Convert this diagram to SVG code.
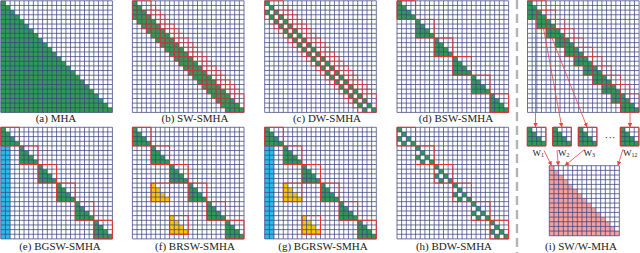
<svg xmlns="http://www.w3.org/2000/svg" xmlns:xlink="http://www.w3.org/1999/xlink" width="640" height="253" viewBox="0 0 640 253">
<style>
.g{fill:none;stroke:#3b4380;stroke-width:0.75;vector-effect:non-scaling-stroke}
.r{fill:none;stroke:#e3302e;stroke-width:1;vector-effect:non-scaling-stroke}
.rs{fill:none;stroke:#e3302e;stroke-width:1;stroke-opacity:0.7;vector-effect:non-scaling-stroke}
.gr{fill:#2f9a55}
.bl{fill:#2cbaec}
.ye{fill:#f8c600}
.pk{fill:#f6a09c}
.bg{fill:#ffffff}
.cap{font-family:"Liberation Serif","Times New Roman",serif;font-size:11px;fill:#222;text-anchor:middle}
.w{font-family:"Liberation Serif","Times New Roman",serif;font-size:9px;fill:#222}
.ar{stroke:#e5443f;stroke-width:0.8;fill:none}
</style>
<defs>
<path id="g24" class="g" d="M0 0H24M0 1H24M0 2H24M0 3H24M0 4H24M0 5H24M0 6H24M0 7H24M0 8H24M0 9H24M0 10H24M0 11H24M0 12H24M0 13H24M0 14H24M0 15H24M0 16H24M0 17H24M0 18H24M0 19H24M0 20H24M0 21H24M0 22H24M0 23H24M0 24H24M0 0V24M1 0V24M2 0V24M3 0V24M4 0V24M5 0V24M6 0V24M7 0V24M8 0V24M9 0V24M10 0V24M11 0V24M12 0V24M13 0V24M14 0V24M15 0V24M16 0V24M17 0V24M18 0V24M19 0V24M20 0V24M21 0V24M22 0V24M23 0V24M24 0V24"/>
<path id="g15" class="g" d="M0 0H15M0 1H15M0 2H15M0 3H15M0 4H15M0 5H15M0 6H15M0 7H15M0 8H15M0 9H15M0 10H15M0 11H15M0 12H15M0 13H15M0 14H15M0 15H15M0 0V15M1 0V15M2 0V15M3 0V15M4 0V15M5 0V15M6 0V15M7 0V15M8 0V15M9 0V15M10 0V15M11 0V15M12 0V15M13 0V15M14 0V15M15 0V15"/>
<path id="g4" class="g" d="M0 0H4M0 1H4M0 2H4M0 3H4M0 4H4M0 0V4M1 0V4M2 0V4M3 0V4M4 0V4"/>
<path id="tri24" d="M0 0H1V1H2V2H3V3H4V4H5V5H6V6H7V7H8V8H9V9H10V10H11V11H12V12H13V13H14V14H15V15H16V16H17V17H18V18H19V19H20V20H21V21H22V22H23V23H24V24H0Z"/>
<path id="tri15" d="M0 0H1V1H2V2H3V3H4V4H5V5H6V6H7V7H8V8H9V9H10V10H11V11H12V12H13V13H14V14H15V15H0Z"/>
<path id="tri4" d="M0 0H1V1H2V2H3V3H4V4H0Z"/>
<path id="dil4" d="M0 0h1v1h-1zM1 1h1v1h-1zM0 2h1v1h-1zM2 2h1v1h-1zM1 3h1v1h-1zM3 3h1v1h-1z"/>
<rect id="box4" class="r" x="0" y="0" width="4" height="4"/>
<rect id="bg24" class="bg" x="0" y="0" width="24" height="24"/>
<path id="blocks" class="gr" d="M0 0H1V1H2V2H3V3H4V4H0ZM4 4H5V5H6V6H7V7H8V8H4ZM8 8H9V9H10V10H11V11H12V12H8ZM12 12H13V13H14V14H15V15H16V16H12ZM16 16H17V17H18V18H19V19H20V20H16ZM20 20H21V21H22V22H23V23H24V24H20Z"/>
<path id="bboxes" class="r" d="M0 0h4v4h-4zM4 4h4v4h-4zM8 8h4v4h-4zM12 12h4v4h-4zM16 16h4v4h-4zM20 20h4v4h-4z"/>
<path id="sbox" class="rs" d="M0 0h4v4h-4zM1 1h4v4h-4zM2 2h4v4h-4zM3 3h4v4h-4zM4 4h4v4h-4zM5 5h4v4h-4zM6 6h4v4h-4zM7 7h4v4h-4zM8 8h4v4h-4zM9 9h4v4h-4zM10 10h4v4h-4zM11 11h4v4h-4zM12 12h4v4h-4zM13 13h4v4h-4zM14 14h4v4h-4zM15 15h4v4h-4zM16 16h4v4h-4zM17 17h4v4h-4zM18 18h4v4h-4zM19 19h4v4h-4zM20 20h4v4h-4z"/>
<marker id="ah" viewBox="0 0 6 6" refX="5.5" refY="3" markerWidth="4.5" markerHeight="4.5" orient="auto" markerUnits="userSpaceOnUse"><path d="M0 0L6 3L0 6z" fill="#e5443f"/></marker>
</defs>

<g id="sep"><line x1="517" y1="0" x2="517" y2="253" stroke="#b4b4b4" stroke-width="2.4" stroke-dasharray="9 5"/></g>

<g id="panel-a">
<g transform="translate(0.8,0.8) scale(4.65)">
<use xlink:href="#bg24"/>
<use xlink:href="#tri24" class="gr"/>
<use xlink:href="#g24"/>
</g>
<text class="cap" x="56" y="122">(a) MHA</text>
</g>

<g id="panel-b">
<g transform="translate(132.4,0.8) scale(4.65)">
<use xlink:href="#bg24"/>
<path class="gr" d="M0 0H1V1H2V2H3V3H4V4H5V5H6V6H7V7H8V8H9V9H10V10H11V11H12V12H13V13H14V14H15V15H16V16H17V17H18V18H19V19H20V20H21V21H22V22H23V23H24V24H20V23H19V22H18V21H17V20H16V19H15V18H14V17H13V16H12V15H11V14H10V13H9V12H8V11H7V10H6V9H5V8H4V7H3V6H2V5H1V4H0Z"/>
<use xlink:href="#g24"/>
<use xlink:href="#sbox"/>
</g>
<text class="cap" x="195" y="122">(b) SW-SMHA</text>
</g>

<g id="panel-c">
<g transform="translate(264.7,0.8) scale(4.65)">
<use xlink:href="#bg24"/>
<path class="gr" d="M0 0h1v1h-1zM1 1h1v1h-1zM2 2h1v1h-1zM3 3h1v1h-1zM4 4h1v1h-1zM5 5h1v1h-1zM6 6h1v1h-1zM7 7h1v1h-1zM8 8h1v1h-1zM9 9h1v1h-1zM10 10h1v1h-1zM11 11h1v1h-1zM12 12h1v1h-1zM13 13h1v1h-1zM14 14h1v1h-1zM15 15h1v1h-1zM16 16h1v1h-1zM17 17h1v1h-1zM18 18h1v1h-1zM19 19h1v1h-1zM20 20h1v1h-1zM21 21h1v1h-1zM22 22h1v1h-1zM23 23h1v1h-1zM0 2h1v1h-1zM1 3h1v1h-1zM2 4h1v1h-1zM3 5h1v1h-1zM4 6h1v1h-1zM5 7h1v1h-1zM6 8h1v1h-1zM7 9h1v1h-1zM8 10h1v1h-1zM9 11h1v1h-1zM10 12h1v1h-1zM11 13h1v1h-1zM12 14h1v1h-1zM13 15h1v1h-1zM14 16h1v1h-1zM15 17h1v1h-1zM16 18h1v1h-1zM17 19h1v1h-1zM18 20h1v1h-1zM19 21h1v1h-1zM20 22h1v1h-1zM21 23h1v1h-1z"/>
<use xlink:href="#g24"/>
<use xlink:href="#sbox"/>
</g>
<text class="cap" x="327" y="122">(c) DW-SMHA</text>
</g>

<g id="panel-d">
<g transform="translate(397,0.8) scale(4.65)">
<use xlink:href="#bg24"/>
<use xlink:href="#blocks"/>
<use xlink:href="#g24"/>
<use xlink:href="#bboxes"/>
</g>
<text class="cap" x="456" y="122">(d) BSW-SMHA</text>
</g>

<g id="panel-e">
<g transform="translate(0.8,127.3) scale(4.65)">
<use xlink:href="#bg24"/>
<use xlink:href="#blocks"/>
<rect class="bl" x="0" y="4" width="2" height="20"/>
<use xlink:href="#g24"/>
<use xlink:href="#bboxes"/>
</g>
<text class="cap" x="60" y="250">(e) BGSW-SMHA</text>
</g>

<g id="panel-f">
<g transform="translate(132.4,127.3) scale(4.65)">
<use xlink:href="#bg24"/>
<use xlink:href="#blocks"/>
<use xlink:href="#tri4" class="ye" x="4" y="12"/>
<use xlink:href="#tri4" class="ye" x="8" y="19"/>
<use xlink:href="#g24"/>
<use xlink:href="#bboxes"/>
<use xlink:href="#box4" x="4" y="12"/>
<use xlink:href="#box4" x="8" y="19"/>
</g>
<text class="cap" x="195" y="250">(f) BRSW-SMHA</text>
</g>

<g id="panel-g">
<g transform="translate(264.7,127.3) scale(4.65)">
<use xlink:href="#bg24"/>
<use xlink:href="#blocks"/>
<rect class="bl" x="0" y="4" width="2" height="20"/>
<use xlink:href="#tri4" class="ye" x="4" y="12"/>
<use xlink:href="#tri4" class="ye" x="8" y="19"/>
<use xlink:href="#g24"/>
<use xlink:href="#bboxes"/>
<use xlink:href="#box4" x="4" y="12"/>
<use xlink:href="#box4" x="8" y="19"/>
</g>
<text class="cap" x="323" y="250">(g) BGRSW-SMHA</text>
</g>

<g id="panel-h">
<g transform="translate(397,127.3) scale(4.65)">
<use xlink:href="#bg24"/>
<use xlink:href="#dil4" class="gr" x="0" y="0"/>
<use xlink:href="#dil4" class="gr" x="4" y="4"/>
<use xlink:href="#dil4" class="gr" x="8" y="8"/>
<use xlink:href="#dil4" class="gr" x="12" y="12"/>
<use xlink:href="#dil4" class="gr" x="16" y="16"/>
<use xlink:href="#dil4" class="gr" x="20" y="20"/>
<use xlink:href="#g24"/>
<use xlink:href="#bboxes"/>
</g>
<text class="cap" x="454" y="250">(h) BDW-SMHA</text>
</g>

<g id="panel-i-windows">
<g transform="translate(527.5,0.8) scale(4.65)">
<use xlink:href="#bg24"/>
<path class="gr" d="M0 0H1V1H2V2H3V3H4V4H5V5H6V6H7V7H8V8H9V9H10V10H11V11H12V12H13V13H14V14H15V15H16V16H17V17H18V18H19V19H20V20H21V21H22V22H23V23H24V24H20V22H18V20H16V18H14V16H12V14H10V12H8V10H6V8H4V6H2V4H0Z"/>
<use xlink:href="#g24"/>
<path class="rs" d="M0 0h4v4h-4zM2 2h4v4h-4zM4 4h4v4h-4zM6 6h4v4h-4zM8 8h4v4h-4zM10 10h4v4h-4zM12 12h4v4h-4zM14 14h4v4h-4zM16 16h4v4h-4zM18 18h4v4h-4zM20 20h4v4h-4z"/>
</g>
</g>

<g id="w1">
<g transform="translate(527.3,127.3) scale(4.65)"><rect class="bg" width="4" height="4"/><use xlink:href="#tri4" class="gr"/><use xlink:href="#g4"/><use xlink:href="#box4"/></g>
<text class="w" x="532.5" y="155.5">W<tspan font-size="6" dy="1.5">1</tspan></text>
</g>
<g id="w2">
<g transform="translate(552.7,127.3) scale(4.65)"><rect class="bg" width="4" height="4"/><use xlink:href="#tri4" class="gr"/><use xlink:href="#g4"/><use xlink:href="#box4"/></g>
<text class="w" x="558" y="155.5">W<tspan font-size="6" dy="1.5">2</tspan></text>
</g>
<g id="w3">
<g transform="translate(578.3,127.3) scale(4.65)"><rect class="bg" width="4" height="4"/><use xlink:href="#tri4" class="gr"/><use xlink:href="#g4"/><use xlink:href="#box4"/></g>
<text class="w" x="583.5" y="155.5">W<tspan font-size="6" dy="1.5">3</tspan></text>
</g>
<text id="dots" class="cap" x="610" y="141">···</text>
<g id="w12">
<g transform="translate(620.3,127.3) scale(4.65)"><rect class="bg" width="4" height="4"/><use xlink:href="#tri4" class="gr"/><use xlink:href="#g4"/><use xlink:href="#box4"/></g>
<text class="w" x="623" y="155.5">W<tspan font-size="6" dy="1.5">12</tspan></text>
</g>

<g id="panel-i-mha">
<g transform="translate(549.3,165.7) scale(4.67)">
<rect class="bg" width="15" height="15"/>
<use xlink:href="#tri15" class="pk"/>
<use xlink:href="#g15"/>
</g>
<text class="cap" x="581" y="250">(i) SW/W-MHA</text>
</g>

<g id="connectors">
<line class="ar" x1="535.5" y1="19.5" x2="535.5" y2="127" marker-end="url(#ah)"/>
<line class="ar" x1="543.5" y1="28.5" x2="561.8" y2="127" marker-end="url(#ah)"/>
<line class="ar" x1="552" y1="38" x2="587" y2="127" marker-end="url(#ah)"/>
<line class="ar" x1="630" y1="113" x2="630" y2="127" marker-end="url(#ah)"/>
<line class="ar" x1="544" y1="150.5" x2="551.5" y2="165.5" marker-end="url(#ah)"/>
<line class="ar" x1="557" y1="150" x2="558.3" y2="165.5" marker-end="url(#ah)"/>
<line class="ar" x1="584.5" y1="149.5" x2="565" y2="165.5" marker-end="url(#ah)"/>
<line class="ar" x1="623" y1="149" x2="618" y2="165.5" marker-end="url(#ah)"/>
</g>
</svg>
